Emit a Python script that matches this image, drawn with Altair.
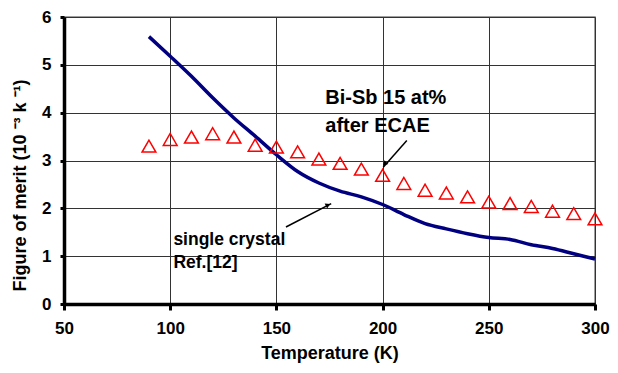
import altair as alt
import pandas as pd

temps = [90, 100, 110, 120, 130, 140, 150, 160, 170, 180, 190, 200,
         210, 220, 230, 240, 250, 260, 270, 280, 290, 300]
ecae = [3.30, 3.44, 3.49, 3.56, 3.49, 3.32, 3.28, 3.18, 3.03, 2.94, 2.82, 2.69,
        2.52, 2.38, 2.32, 2.24, 2.13, 2.10, 2.04, 1.94, 1.89, 1.78]
single = [5.59, 5.18, 4.76, 4.31, 3.89, 3.51, 3.12, 2.77, 2.53, 2.36, 2.24, 2.08,
          1.87, 1.68, 1.57, 1.47, 1.39, 1.35, 1.24, 1.16, 1.05, 0.94]

label_text = ["Bi-Sb 15 at%", "after ECAE", "single crystal", "Ref.[12]"]
label_x = [173, 173, 101.5, 101.5]
label_y = [4.31, 3.73, 1.33, 0.86]
label_size = [20, 20, 17.5, 17.5]

arrow_x = [211.4, 154.5]
arrow_y = [3.42, 1.61]
arrow_x2 = [200.3, 175.8]
arrow_y2 = [2.86, 2.10]
head_x = [201.0, 174.3]
head_y = [2.93, 2.07]
head_angle = [223, 63]

FONT = "Liberation Sans"

df = pd.DataFrame({"T": temps, "ecae": ecae, "single": single})
lab = pd.DataFrame({"t": label_text, "x": label_x, "y": label_y, "s": label_size})
arr = pd.DataFrame({"x": arrow_x, "y": arrow_y, "x2": arrow_x2, "y2": arrow_y2})
head = pd.DataFrame({"x": head_x, "y": head_y, "a": head_angle})

xs = alt.Scale(domain=[50, 300], nice=False, zero=False)
ys = alt.Scale(domain=[0, 6], nice=False)

xaxis = alt.Axis(values=[50, 100, 150, 200, 250, 300], title="Temperature (K)",
                 tickSize=6, labelPadding=10, titlePadding=8)
yaxis = alt.Axis(values=[0, 1, 2, 3, 4, 5, 6], title="Figure of merit (10 ⁻³ k ⁻¹)",
                 tickSize=4, labelPadding=9, titlePadding=12, titleY=168)

base = alt.Chart(df)

line = base.mark_line(color="#000080", strokeWidth=3.5, interpolate="monotone").encode(
    x=alt.X("T:Q", scale=xs, axis=xaxis),
    y=alt.Y("single:Q", scale=ys, axis=yaxis),
)

pts = base.mark_point(shape="triangle-up", color="#FF0000", filled=False,
                      size=190, strokeWidth=1.5, opacity=1).encode(
    x=alt.X("T:Q", scale=xs, axis=xaxis),
    y=alt.Y("ecae:Q", scale=ys, axis=yaxis),
)

texts = alt.Chart(lab).mark_text(font=FONT, fontWeight="bold", align="left",
                                 baseline="middle", color="black").encode(
    x=alt.X("x:Q", scale=xs, axis=xaxis),
    y=alt.Y("y:Q", scale=ys, axis=yaxis),
    text="t:N",
    size=alt.Size("s:Q", scale=None, legend=None),
)

arrows = alt.Chart(arr).mark_rule(color="black", strokeWidth=1.5).encode(
    x=alt.X("x:Q", scale=xs, axis=xaxis),
    y=alt.Y("y:Q", scale=ys, axis=yaxis),
    x2="x2:Q",
    y2="y2:Q",
)

heads = alt.Chart(head).mark_point(shape="triangle-up", filled=True, color="black",
                                   size=30, opacity=1).encode(
    x=alt.X("x:Q", scale=xs, axis=xaxis),
    y=alt.Y("y:Q", scale=ys, axis=yaxis),
    angle=alt.Angle("a:Q", scale=None),
)

chart = alt.layer(line, pts, arrows, heads, texts).properties(
    width=531, height=287,
    autosize=alt.AutoSizeParams(type="none"),
    padding={"left": 56, "top": 9, "right": 15, "bottom": 63},
    background="white",
).configure_view(
    stroke="#808080", strokeWidth=1.5
).configure_axis(
    grid=True, gridColor="#333333", gridWidth=1, gridOpacity=1,
    domainColor="black", domainWidth=3.5, tickColor="black", tickWidth=3,
    labelFont=FONT, labelFontWeight="bold", labelFontSize=17, labelColor="black",
    titleFont=FONT, titleFontWeight="bold", titleFontSize=18, titleColor="black",
    labelFlush=False,
)

chart.save("out.html", embed_options={"renderer": "svg", "actions": False})
